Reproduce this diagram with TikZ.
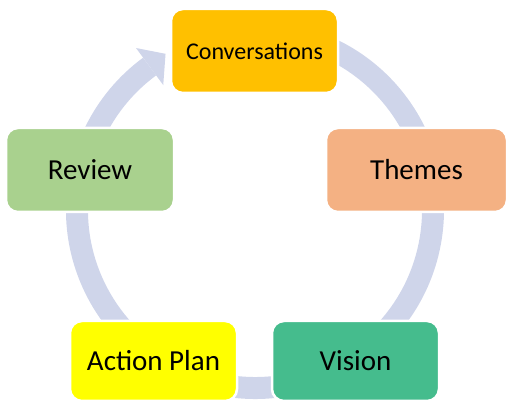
\documentclass[tikz,border=0pt]{standalone}
\usepackage{fontspec}
\setmainfont{Carlito}
\usetikzlibrary{calc}
\definecolor{ringc}{HTML}{CFD5EA}
\definecolor{convc}{HTML}{FFC000}
\definecolor{themc}{HTML}{F4B183}
\definecolor{revc}{HTML}{A9D18E}
\definecolor{actc}{HTML}{FFFF00}
\definecolor{visc}{HTML}{45BC8D}
\begin{document}
\begin{tikzpicture}[x=1pt,y=1pt,
  cyclebox/.style={draw=white, line width=2.5pt, rounded corners=12pt, text=black,
    inner sep=0pt, font=\fontsize{29}{34}\selectfont},
  ring/.style={draw=ringc, line width=22pt},
  ringhead/.style={fill=ringc, draw=none}]
\useasboundingbox (0,0) rectangle (506,401);
\coordinate (c) at (255,191);
% ring
\draw[ring] ($(c)+(80:178)$) arc[start angle=80, end angle=-233.7, radius=178];
\fill[ringhead] ($(c)+(126.3:201)$) -- ($(c)+(119.8:180)$) -- ($(c)+(126.3:155)$) -- cycle;
% nodes
\node[cyclebox, fill=convc, minimum width=167pt, minimum height=84pt,
  font=\fontsize{24}{28}\selectfont] (conv) at (254.5,350) {Conversations};
\node[cyclebox, fill=themc, minimum width=181pt, minimum height=84pt] (them) at (416.5,231) {Themes};
\node[cyclebox, fill=revc, minimum width=168pt, minimum height=84pt] (rev) at (90,231) {Review};
\node[cyclebox, fill=actc, minimum width=167pt, minimum height=80pt] (act) at (153.5,40) {Action Plan};
\node[cyclebox, fill=visc, minimum width=167pt, minimum height=80pt] (vis) at (355.5,40) {Vision};
\end{tikzpicture}
\end{document}
